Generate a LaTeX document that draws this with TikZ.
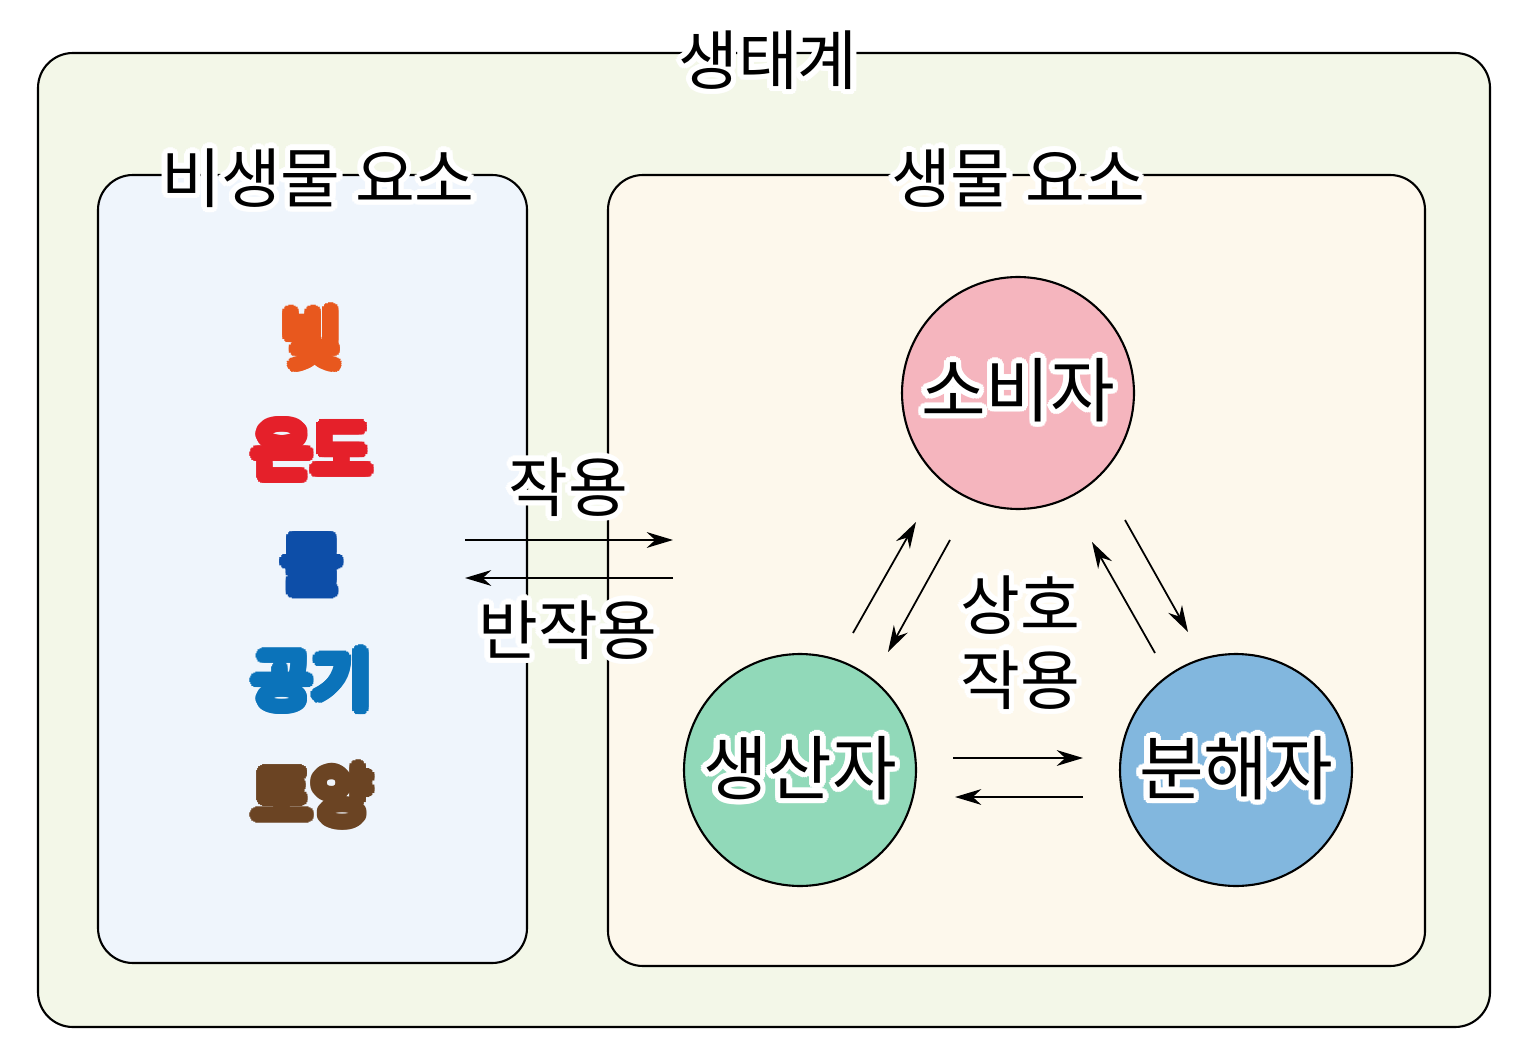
\documentclass[tikz,border=0pt]{standalone}
\usepackage{fontspec}
\setmainfont{Noto Sans CJK KR}
\usetikzlibrary{arrows.meta}
\definecolor{ecoback}{HTML}{F3F7E8}
\definecolor{abioback}{HTML}{EFF5FC}
\definecolor{bioback}{HTML}{FDF8EC}
\definecolor{conscol}{HTML}{F5B5BE}
\definecolor{prodcol}{HTML}{91D9B9}
\definecolor{decocol}{HTML}{82B7DE}
\definecolor{lightcol}{HTML}{E8581E}
\definecolor{tempcol}{HTML}{E5202A}
\definecolor{watercol}{HTML}{0D4EA8}
\definecolor{aircol}{HTML}{0B73BA}
\definecolor{soilcol}{HTML}{6B4423}
\tikzset{
  box/.style={draw,line width=1.2pt,rounded corners=0.7cm},
  word/.style={font=\fontsize{37}{40}\selectfont,inner sep=1pt},
  big/.style={font=\fontsize{40}{44}\selectfont},
  org/.style={circle,draw,line width=1.2pt,minimum size=4.64cm},
  flow/.style={-{Stealth[length=15pt,width=9pt]},line width=1pt}
}
% text with a white halo
\newcommand\halo[4]{%
  \foreach \ang in {0,22.5,...,337.5}
    \node[word,align=center,text=white,#3] at ([shift={(\ang:3.2pt)}]#2) {#4};
  \node[word,align=center,#3] (#1) at (#2) {#4};}
\begin{document}
\begin{tikzpicture}[x=0.02cm,y=-0.02cm]
\useasboundingbox (0,0) rectangle (1524,1060);
%boxes
\draw[box,fill=ecoback] (38,53) rectangle (1490,1027);
\draw[box,fill=abioback] (98,175) rectangle (527,963);
\draw[box,fill=bioback] (608,175) rectangle (1425,966);
\halo{eco}{768,60}{}{생태계}
\halo{abio}{318,178}{}{비생물 요소}
\halo{bio}{1018,178}{}{생물 요소}
%abiotic factors
\halo{light}{312,338}{text=lightcol}{빛}
\halo{temp}{312,450}{text=tempcol}{온도}
\halo{water}{312,565}{text=watercol}{물}
\halo{air}{312,680}{text=aircol}{공기}
\halo{soil}{312,795}{text=soilcol}{토양}
%action
\coordinate (a1) at (465,540); \coordinate (a2) at (673,540);
\coordinate (b1) at (673,578); \coordinate (b2) at (465,578);
\draw[flow] (a1) -- (a2);
\draw[flow] (b1) -- (b2);
\halo{act}{568,487}{}{작용}
\halo{react}{568,630}{}{반작용}
%organisms
\node[org,fill=conscol] (cons) at (1018,393) {};
\node[org,fill=prodcol] (prod) at (800,770) {};
\node[org,fill=decocol] (deco) at (1236,770) {};
\halo{conslab}{1018,390}{big}{소비자}
\halo{prodlab}{800,768}{big}{생산자}
\halo{decolab}{1236,768}{big}{분해자}
\coordinate (p1) at (853,633); \coordinate (p2) at (916,522);
\coordinate (q1) at (950,540); \coordinate (q2) at (888,652);
\coordinate (r1) at (1125,520); \coordinate (r2) at (1188,632);
\coordinate (s1) at (1155,653); \coordinate (s2) at (1092,542);
\coordinate (t1) at (953,758); \coordinate (t2) at (1083,758);
\coordinate (u1) at (1083,797); \coordinate (u2) at (955,797);
\draw[flow] (p1) -- (p2);
\draw[flow] (q1) -- (q2);
\draw[flow] (r1) -- (r2);
\draw[flow] (s1) -- (s2);
\draw[flow] (t1) -- (t2);
\draw[flow] (u1) -- (u2);
\halo{inter1}{1020,605}{}{상호}
\halo{inter2}{1020,680}{}{작용}
\end{tikzpicture}
\end{document}
